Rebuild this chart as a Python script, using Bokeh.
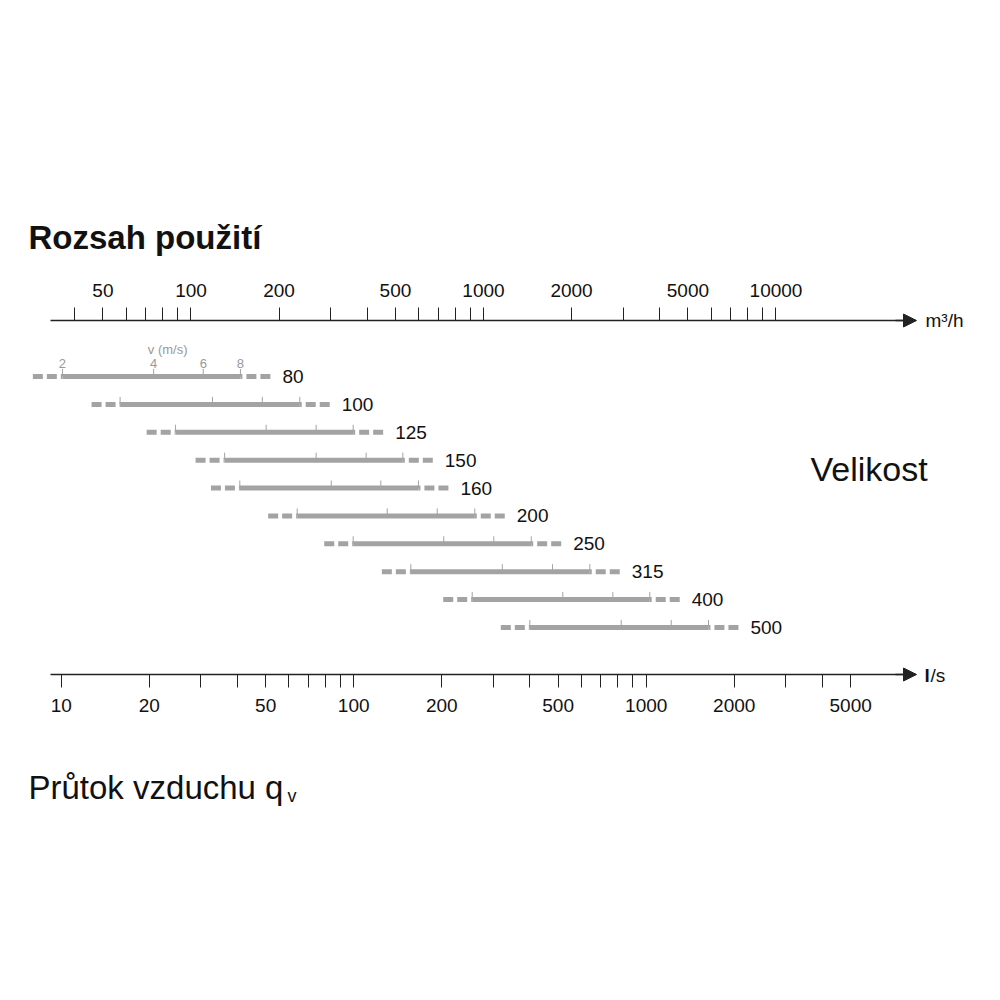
from bokeh.plotting import figure
from bokeh.models import (Range1d, LogScale, LogAxis, FixedTicker, NumeralTickFormatter,
                          Label, Arrow, NormalHead, ColumnDataSource)
from bokeh.embed import file_html
from bokeh.resources import INLINE
from bokeh.core.properties import value

# ---------------- data ----------------
sizes = ["80", "100", "125", "150", "160", "200", "250", "315", "400", "500"]
# air flow in l/s at the marked velocities (solid bar = 2..8 m/s)
q_2ms = [10.1, 15.9, 24.6, 36.2, 40.8, 64.1, 99.6, 156.8, 254.2, 400.0]
q_4ms = [20.7, 32.9, 50.2, 74.4, 83.8, 130.2, 203.2, 322.2, 518.6, 821.3]
q_6ms = [30.6, 48.7, 74.4, 110.3, 123.8, 193.0, 301.3, 478.3, 768.9, 1217.8]
q_8ms = [41.0, 65.4, 99.6, 147.2, 166.5, 259.4, 404.5, 641.5, 1028.7, 1633.0]
# dashed extensions (l/s)
q_low = [8.0, 12.7, 19.6, 28.8, 32.5, 51.0, 79.3, 124.8, 202.3, 318.4]
q_high = [51.9, 82.8, 126.1, 186.4, 210.8, 328.4, 512.1, 812.1, 1302.0, 2067.0]
velocity_labels = ["2", "4", "6", "8"]

ls_major = [10, 20, 50, 100, 200, 500, 1000, 2000, 5000]
ls_minor = [30, 40, 60, 70, 80, 90, 300, 400, 600, 700, 800, 900, 3000, 4000]
m3h_major = [50, 100, 200, 500, 1000, 2000, 5000, 10000]
m3h_minor = [40, 60, 70, 80, 90, 300, 400, 600, 700, 800, 900,
             3000, 4000, 6000, 7000, 8000, 9000]
LS_TO_M3H = 3.6

# ---------------- layout ----------------
W, H = 984, 984
FRAME_T, FRAME_B = 60, 924                 # frame spans whole width, y data == screen y
AX_L, AX_R = 50, 915                       # axis line extent (px)
TOP_Y, BOT_Y = 320, 674                    # axis line positions (px)
PX10, DECADE = 60.7, 292.5                 # x of 10 l/s, px per decade


def px_to_ls(px):
    return 10 ** (1 + (px - PX10) / DECADE)


x_start, x_end = px_to_ls(0), px_to_ls(W)
row_y = [376 + 27.88 * i for i in range(len(sizes))]
tick_top = [y - 7.5 for y in row_y]

FONT = "Liberation Sans"
BAR = "#a3a3a3"
AX = "#222222"
TXT = "#111111"

p = figure(width=W, height=H, x_axis_type="log",
           x_range=Range1d(x_start, x_end), y_range=Range1d(FRAME_B, FRAME_T),
           output_backend="svg", toolbar_location=None, y_axis_location=None,
           min_border_left=0, min_border_right=0,
           min_border_top=FRAME_T, min_border_bottom=H - FRAME_B,
           outline_line_color=None, background_fill_color="white",
           border_fill_color="white")
p.xgrid.visible = False
p.ygrid.visible = False


def style_axis(ax, standoff):
    ax.formatter = NumeralTickFormatter(format="0")
    ax.major_tick_out = 13
    ax.major_tick_in = 0
    ax.minor_tick_out = 13
    ax.minor_tick_in = 0
    ax.axis_line_color = AX
    ax.axis_line_width = 1.3
    ax.major_tick_line_color = AX
    ax.minor_tick_line_color = AX
    ax.major_tick_line_width = 1
    ax.minor_tick_line_width = 1
    ax.major_label_text_font = FONT
    ax.major_label_text_font_size = "19px"
    ax.major_label_text_color = TXT
    ax.major_label_standoff = standoff


bottom = p.xaxis[0]
bottom.ticker = FixedTicker(ticks=ls_major, minor_ticks=ls_minor)
bottom.fixed_location = BOT_Y
bottom.bounds = (px_to_ls(AX_L), px_to_ls(AX_R))
style_axis(bottom, 11)

p.extra_x_ranges = {"m3h": Range1d(x_start * LS_TO_M3H, x_end * LS_TO_M3H)}
p.extra_x_scales = {"m3h": LogScale()}
top = LogAxis(x_range_name="m3h",
              ticker=FixedTicker(ticks=m3h_major, minor_ticks=m3h_minor),
              fixed_location=TOP_Y,
              bounds=(px_to_ls(AX_L) * LS_TO_M3H, px_to_ls(AX_R) * LS_TO_M3H))
style_axis(top, 11)
p.add_layout(top, "above")

# arrow heads
for yy in (TOP_Y, BOT_Y):
    p.add_layout(Arrow(end=NormalHead(size=13, fill_color=AX, line_color=AX, line_width=1),
                       x_start=px_to_ls(AX_R - 20), y_start=yy,
                       x_end=px_to_ls(AX_R + 1), y_end=yy,
                       line_color=AX, line_width=1.3))

# ---------------- bars ----------------
src = ColumnDataSource(dict(y=row_y, yt=tick_top, q2=q_2ms, q4=q_4ms, q6=q_6ms,
                            q8=q_8ms, qlo=q_low, qhi=q_high, size=sizes))
p.segment(x0="q2", y0="y", x1="q8", y1="y", source=src,
          line_width=5, line_color=BAR, line_cap="butt")
p.segment(x0="qlo", y0="y", x1="q2", y1="y", source=src,
          line_width=5, line_color=BAR, line_cap="butt", line_dash="10 4")
p.segment(x0="qhi", y0="y", x1="q8", y1="y", source=src,
          line_width=5, line_color=BAR, line_cap="butt", line_dash="10 4")
for col in ("q2", "q4", "q6", "q8"):
    p.segment(x0=col, y0="y", x1=col, y1="yt", source=src,
              line_width=1, line_color=BAR)

p.text(x="qhi", y="y", text="size", source=src, x_offset=12,
       text_baseline="middle", text_align="left",
       text_font=value(FONT), text_font_size="19px", text_color=TXT)

# velocity scale on the first row
p.text(x=[q_2ms[0], q_4ms[0], q_6ms[0], q_8ms[0]], y=[363] * 4, text=velocity_labels,
       text_align="center", text_baseline="middle",
       text_font=value(FONT), text_font_size="13px", text_color="#999999")
p.add_layout(Label(x=q_4ms[0], y=349, x_offset=14, text="v (m/s)",
                   text_align="center", text_baseline="middle",
                   text_font=FONT, text_font_size="13px", text_color="#999999"))

# ---------------- texts ----------------
p.add_layout(Label(x=px_to_ls(28), y=236.7, text="Rozsah použití",
                   text_baseline="alphabetic", text_font=FONT, text_font_size="33px",
                   text_font_style="bold", text_color=TXT))
p.add_layout(Label(x=px_to_ls(28), y=787, text="Průtok vzduchu q",
                   text_baseline="alphabetic", text_font=FONT, text_font_size="33px",
                   text_color=TXT))
p.add_layout(Label(x=px_to_ls(287), y=795, text="v",
                   text_baseline="alphabetic", text_font=FONT, text_font_size="18px",
                   text_color=TXT))
p.add_layout(Label(x=px_to_ls(810), y=468, text="Velikost",
                   text_baseline="middle", text_font=FONT, text_font_size="34px",
                   text_color=TXT))
p.add_layout(Label(x=px_to_ls(925), y=TOP_Y, text="m³/h",
                   text_baseline="middle", text_font=FONT, text_font_size="19px",
                   text_color=TXT))
p.add_layout(Label(x=px_to_ls(924), y=BOT_Y + 1, text="l",
                   text_baseline="middle", text_font=FONT, text_font_size="19px",
                   text_font_style="bold", text_color=TXT))
p.add_layout(Label(x=px_to_ls(930), y=BOT_Y + 1, text="/s",
                   text_baseline="middle", text_font=FONT, text_font_size="19px",
                   text_color=TXT))

open("out.html", "w").write(file_html(p, INLINE))
